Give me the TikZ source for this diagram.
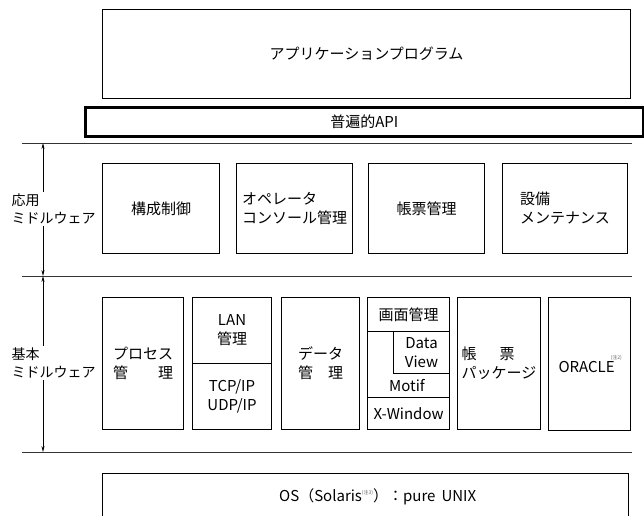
\documentclass[tikz,border=0pt]{standalone}
\usepackage{fontspec}
\setmainfont{Noto Sans CJK JP}
\usetikzlibrary{arrows.meta,calc}
\tikzset{
  box/.style={draw, line width=1.1pt, rectangle, anchor=north west, inner sep=0pt,
    align=center, font=\fontsize{15}{19}\selectfont},
  lbox/.style={box, align=left},
  apibox/.style={box, line width=2.6pt},
  plain/.style={inner sep=0pt, align=center, font=\fontsize{15}{19}\selectfont},
  sep/.style={line width=0.8pt, draw=black!80},
  dim/.style={line width=0.7pt, {Stealth[length=6pt,width=3pt]}-{Stealth[length=6pt,width=3pt]}},
  lab/.style={anchor=west, fill=white, inner sep=1.5pt, align=left, font=\fontsize{14}{18}\selectfont},
  note/.style={font=\fontsize{5}{5}\selectfont}
}
\begin{document}
\begin{tikzpicture}[x=1pt,y=-1pt]
\useasboundingbox (0,0) rectangle (644,515);
% top layers
\node[box, minimum width=528pt, minimum height=89pt] (app) at (102,9) {アプリケーションプログラム};
\node[apibox, minimum width=558pt, minimum height=29pt] (api) at (84,106) {普遍的API};
% separator lines
\coordinate (s1a) at (22,143); \coordinate (s1b) at (632,143);
\coordinate (s2a) at (22,276); \coordinate (s2b) at (632,276);
\coordinate (s3a) at (22,452); \coordinate (s3b) at (632,452);
\draw[sep] (s1a) -- (s1b);
\draw[sep] (s2a) -- (s2b);
\draw[sep] (s3a) -- (s3b);
% dimension arrows
\coordinate (d1) at (43,143); \coordinate (d2) at (43,276); \coordinate (d3) at (43,452);
\draw[dim] (d1) -- (d2);
\draw[dim] (d2) -- (d3);
\node[lab] (lab1) at (10,209) {応用\\ミドルウェア};
\node[lab] (lab2) at (10,363) {基本\\ミドルウェア};
% application middleware
\node[box, minimum width=117pt, minimum height=90pt] (u1) at (102,163) {構成制御};
\node[lbox, minimum width=116pt, minimum height=90pt] (u2) at (236,163) {オペレータ\\コンソール管理};
\node[box, minimum width=116pt, minimum height=90pt] (u3) at (368,163) {帳票管理};
\node[lbox, minimum width=125pt, minimum height=90pt] (u4) at (502,163) {設備\\メンテナンス};
% basic middleware
\node[lbox, minimum width=81pt, minimum height=132pt] (b1) at (102,297) {プロセス\\管\hspace{2em}理};
\node[box, minimum width=79pt, minimum height=66pt] (lan) at (192,297) {LAN\\管理};
\node[box, minimum width=79pt, minimum height=66pt] (tcp) at (192,363) {TCP/IP\\UDP/IP};
\node[lbox, minimum width=78pt, minimum height=132pt] (dat) at (281,297) {データ\\管\hspace{1em}理};
\node[box, minimum width=82pt, minimum height=132pt] (gui) at (367,297) {};
\node[box, minimum width=82pt, minimum height=34pt] (scr) at (367,297) {画面管理};
\node[box, minimum width=56pt, minimum height=42pt] (dv) at (393,331) {Data\\View};
\node[plain] (motif) at (407,386) {Motif};
\node[box, minimum width=82pt, minimum height=32pt] (xw) at (367,397) {X-Window};
\node[lbox, minimum width=83pt, minimum height=132pt] (pkg) at (457,297) {帳\hspace{23pt}票\\パッケージ};
\node[box, minimum width=82pt, minimum height=133pt] (ora) at (548,297)
  {\hspace*{-6pt}ORACLE\rlap{\hspace{-4pt}\raisebox{13pt}{\textcolor{black!60}{\fontsize{5}{5}\selectfont (注2)}}}};
% OS
\node[box, minimum width=526pt, minimum height=70pt] (os) at (102,473) {};
\node[plain, anchor=west] (ostext) at ($(os.north west)+(177,24)$)
  {OS（Solaris\raisebox{7pt}{\textcolor{black!60}{\fontsize{5}{5}\selectfont (注3)}}）：pure\hspace{6pt}UNIX};
\end{tikzpicture}
\end{document}
